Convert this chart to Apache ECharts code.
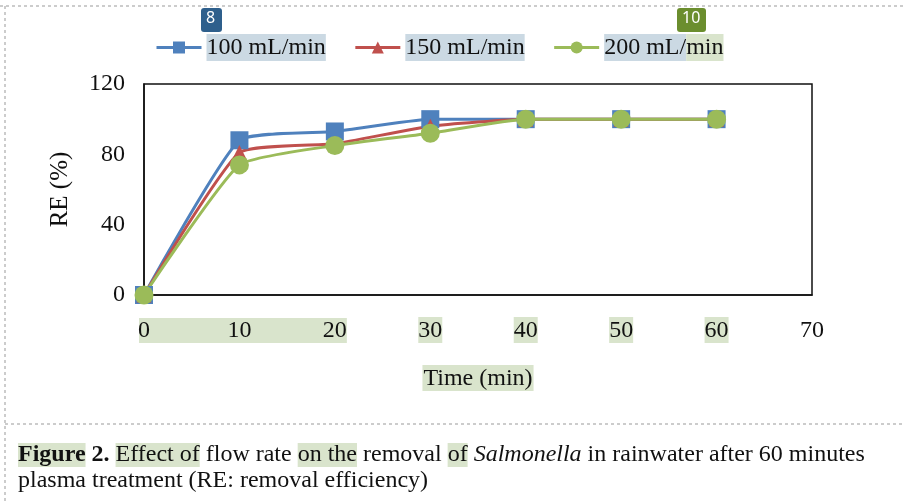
<!DOCTYPE html>
<html>
<head>
<meta charset="utf-8">
<script src="https://cdn.jsdelivr.net/npm/echarts@6/dist/echarts.min.js"></script>
<style>
  html, body { margin: 0; padding: 0; background: #fff; }
  #chart { width: 903px; height: 504px; }
</style>
</head>
<body>
<div id="chart"></div>
<script>
// 数据：时间 (min) 与三种流速下的去除率 RE (%)
const times = [0, 10, 20, 30, 40, 50, 60]
const seriesNames = ['100 mL/min', '150 mL/min', '200 mL/min']
const re100 = [0, 88, 93, 100, 100, 100, 100]
const re150 = [0, 81, 86, 96, 100, 100, 100]
const re200 = [0, 74, 85, 92, 100, 100, 100]
const yTicks = [0, 40, 80, 120]

const serif = '"Liberation Serif", "DejaVu Serif", serif'
const hlGreen = '#d9e4cc'
const hlBlue = '#cbd9e3'

const chart = echarts.init(document.getElementById('chart'))

const pairs = arr => times.map((t, i) => [t, arr[i]])

const lineSeries = (name, data, color, symbol, size) => ({
  name: name,
  type: 'line',
  data: pairs(data),
  smooth: 0.15,
  symbol: symbol,
  symbolSize: size,
  showSymbol: true,
  lineStyle: { color: color, width: 3 },
  itemStyle: { color: color },
  z: 3
})

const option = {
  animation: false,
  backgroundColor: '#fff',
  textStyle: { fontFamily: serif },
  legend: {
    left: 150,
    top: 29,
    itemWidth: 45,
    itemHeight: 15,
    itemGap: 28,
    lineStyle: { width: 3 },
    formatter: name => (name === '200 mL/min' ? '{b|200 mL/}{g|min}' : '{b|' + name + '}'),
    textStyle: {
      fontFamily: serif,
      fontSize: 24,
      color: '#111',
      rich: {
        b: { fontFamily: serif, fontSize: 24, color: '#111', backgroundColor: hlBlue, padding: [2, 0, 1, 0] },
        g: { fontFamily: serif, fontSize: 24, color: '#111', backgroundColor: hlGreen, padding: [2, 0, 1, 0] }
      }
    },
    data: seriesNames
  },
  grid: {
    left: 144,
    right: 91,
    top: 84,
    bottom: 209,
    show: true,
    borderColor: '#111',
    borderWidth: 1.5
  },
  xAxis: {
    type: 'value',
    min: 0,
    max: 70,
    interval: 10,
    name: 'Time (min)',
    nameLocation: 'middle',
    nameGap: 70,
    nameTextStyle: {
      fontFamily: serif, fontSize: 24, color: '#111',
      backgroundColor: hlGreen, padding: [2, 1, 0, 1]
    },
    axisLine: { show: true, lineStyle: { color: '#111', width: 1.5 } },
    axisTick: { show: false },
    splitLine: { show: false },
    axisLabel: {
      margin: 22,
      fontFamily: serif,
      fontSize: 24,
      color: '#111',
      formatter: v => (v >= 30 && v <= 60 ? '{h|' + v + '}' : '{n|' + v + '}'),
      rich: {
        h: { fontFamily: serif, fontSize: 24, color: '#111', backgroundColor: hlGreen, padding: [2, 0, 0, 0] },
        n: { fontFamily: serif, fontSize: 24, color: '#111', padding: [2, 0, 0, 0] }
      }
    }
  },
  yAxis: {
    type: 'value',
    min: 0,
    max: 120,
    interval: 40,
    name: 'RE (%)',
    nameLocation: 'middle',
    nameRotate: 90,
    nameGap: 71,
    nameTextStyle: { fontFamily: serif, fontSize: 25, color: '#111' },
    axisLine: { show: true, lineStyle: { color: '#111', width: 1.5 } },
    axisTick: { show: false },
    splitLine: { show: false },
    axisLabel: {
      margin: 19,
      fontFamily: serif,
      fontSize: 24,
      color: '#111',
      formatter: v => (yTicks.includes(v) ? String(v) : '')
    }
  },
  series: [
    lineSeries(seriesNames[0], re100, '#4f81bd', 'rect', 18),
    lineSeries(seriesNames[1], re150, '#c0504d', 'triangle', 15),
    lineSeries(seriesNames[2], re200, '#9bbb59', 'circle', 19)
  ]
}
chart.setOption(option)

// 注释高亮、虚线边框与图注
const x0 = chart.convertToPixel({ xAxisIndex: 0 }, 0)
const x20 = chart.convertToPixel({ xAxisIndex: 0 }, 20)
const dash = { stroke: '#999', lineWidth: 1, lineDash: [3, 3] }

chart.setOption({
  graphic: [
    { type: 'rect', z: -1, shape: { x: x0 - 5, y: 318, width: x20 - x0 + 17, height: 25 }, style: { fill: hlGreen } },
    { type: 'line', shape: { x1: 0, y1: 6, x2: 903, y2: 6 }, style: dash },
    { type: 'line', shape: { x1: 5, y1: 6, x2: 5, y2: 504 }, style: dash },
    { type: 'line', shape: { x1: 5, y1: 424, x2: 903, y2: 424 }, style: dash },
    { type: 'rect', shape: { x: 201, y: 8, width: 21, height: 24, r: 3 }, style: { fill: '#2e5f8c' } },
    { type: 'text', left: 206, top: 10, style: { text: '8', fill: '#fff', font: '16px "Noto Sans"' } },
    { type: 'rect', shape: { x: 677, y: 8, width: 29, height: 24, r: 3 }, style: { fill: '#6b8e2e' } },
    { type: 'text', left: 682, top: 10, style: { text: '10', fill: '#fff', font: '16px "Noto Sans"' } },
    {
      type: 'text',
      left: 18,
      top: 442,
      style: {
        text: '{hb|Figure} {b|2.} {h|Effect of} flow rate {h|on the} removal {h|of} {i|Salmonella} in rainwater after 60 minutes\nplasma treatment (RE: removal efficiency)',
        font: '24px ' + serif,
        fill: '#111',
        lineHeight: 26,
        rich: {
          hb: { fontFamily: serif, fontSize: 24, fontWeight: 'bold', backgroundColor: hlGreen, lineHeight: 26 },
          b: { fontFamily: serif, fontSize: 24, fontWeight: 'bold', lineHeight: 26 },
          h: { fontFamily: serif, fontSize: 24, backgroundColor: hlGreen, lineHeight: 26 },
          i: { fontFamily: serif, fontSize: 24, fontStyle: 'italic', lineHeight: 26 }
        }
      }
    }
  ]
})
</script>
</body>
</html>
